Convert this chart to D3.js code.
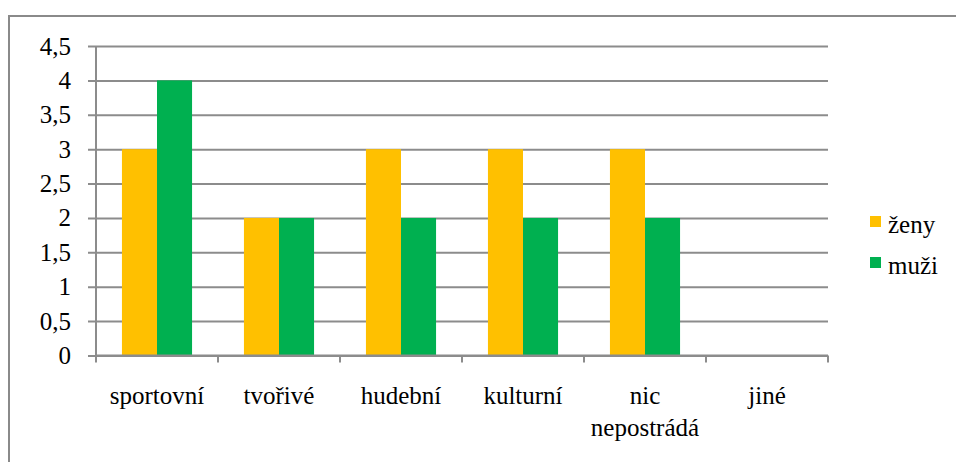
<!DOCTYPE html>
<html>
<head>
<meta charset="utf-8">
<script src="https://cdn.jsdelivr.net/npm/d3@7"></script>
</head>
<body style="margin:0">
<script>
// data
const categories = ["sportovní", "tvořivé", "hudební", "kulturní", "nic nepostrádá", "jiné"];
const zeny = [3, 2, 3, 3, 3, 0];
const muzi = [4, 2, 2, 2, 2, 0];
const seriesNames = ["ženy", "muži"];
const yTicks = [0, 0.5, 1, 1.5, 2, 2.5, 3, 3.5, 4, 4.5];

const width = 956;
const height = 462;
const marginLeft = 96;
const marginRight = 128;
const marginTop = 46;
const plotBottom = 355.5;

const colors = ["#FFC000", "#00B050"];
const gridColor = "#8c8c8c";
const font = '"Liberation Serif"';
const fontSize = "25px";

const svg = d3
  .create("svg")
  .attr("width", width)
  .attr("height", height);

// outer chart frame (only top and left edges visible in the crop)
svg
  .append("path")
  .attr("d", `M9,${height} V16 H${width}`)
  .attr("fill", "none")
  .attr("stroke", "#8a8a8a")
  .attr("stroke-width", 2);

const x = d3
  .scaleBand()
  .domain(categories)
  .range([marginLeft, width - marginRight]);

const xSub = d3
  .scaleBand()
  .domain(seriesNames)
  .range([0, x.bandwidth()])
  .paddingInner(0)
  .paddingOuter(0.74);

const y = d3.scaleLinear().domain([0, 4.5]).range([plotBottom, marginTop]);

// gridlines + y axis
const yAxis = svg
  .append("g")
  .attr("transform", `translate(${marginLeft},0)`)
  .call(
    d3
      .axisLeft(y)
      .tickValues(yTicks)
      .tickSize(8)
      .tickPadding(17)
      .tickFormat((d) => String(d).replace(".", ",")),
  );
yAxis.attr("font-family", null).attr("font-size", null);
yAxis.select(".domain").attr("stroke", gridColor).attr("stroke-width", 2).attr("d", `M0,${marginTop}V${plotBottom}`);
yAxis
  .selectAll(".tick line")
  .attr("stroke", gridColor)
  .attr("stroke-width", 2)
  .attr("x1", -8)
  .attr("x2", width - marginRight - marginLeft);
yAxis
  .selectAll(".tick text")
  .attr("fill", "#000")
  .style("font-family", font)
  .style("font-size", fontSize);

// bars
const rows = categories.map((c, i) => ({ category: c, values: [zeny[i], muzi[i]] }));

svg
  .append("g")
  .selectAll("g")
  .data(rows)
  .join("g")
  .attr("transform", (d) => `translate(${x(d.category)},0)`)
  .selectAll("rect")
  .data((d) => d.values.map((v, j) => ({ key: seriesNames[j], value: v, j })))
  .join("rect")
  .attr("x", (d) => xSub(d.key))
  .attr("y", (d) => y(d.value))
  .attr("width", xSub.bandwidth())
  .attr("height", (d) => y(0) - y(d.value))
  .attr("fill", (d) => colors[d.j]);

// x axis
const xAxis = svg
  .append("g")
  .attr("transform", `translate(0,${plotBottom})`);

xAxis
  .append("path")
  .attr("d", `M${marginLeft},0H${width - marginRight}`)
  .attr("stroke", gridColor)
  .attr("stroke-width", 2);

xAxis
  .selectAll("line")
  .data(d3.range(categories.length + 1))
  .join("line")
  .attr("x1", (i) => marginLeft + i * x.step())
  .attr("x2", (i) => marginLeft + i * x.step())
  .attr("y1", 0)
  .attr("y2", 7)
  .attr("stroke", gridColor)
  .attr("stroke-width", 2);

// category labels, "nic nepostrádá" wraps onto two lines
const labelLines = categories.flatMap((c) =>
  (c === "nic nepostrádá" ? ["nic", "nepostrádá"] : [c]).map((t, k) => ({ c, t, k })),
);

xAxis
  .selectAll("text")
  .data(labelLines)
  .join("text")
  .attr("x", (d) => x(d.c) + x.bandwidth() / 2)
  .attr("y", (d) => 48 + d.k * 32)
  .attr("text-anchor", "middle")
  .attr("fill", "#000")
  .style("font-family", font)
  .style("font-size", fontSize)
  .text((d) => d.t);

// legend
const legend = svg
  .append("g")
  .selectAll("g")
  .data(seriesNames)
  .join("g")
  .attr("transform", (d, i) => `translate(870,${216 + i * 41})`);

legend
  .append("rect")
  .attr("width", 11)
  .attr("height", 11)
  .attr("fill", (d, i) => colors[i]);

legend
  .append("text")
  .attr("x", 18)
  .attr("y", 17)
  .attr("fill", "#000")
  .style("font-family", font)
  .style("font-size", fontSize)
  .text((d) => d);

document.body.appendChild(svg.node());
</script>
</body>
</html>
